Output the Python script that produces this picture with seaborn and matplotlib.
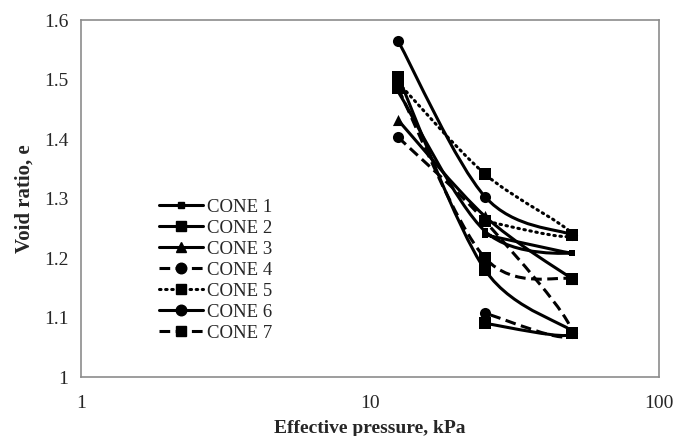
import numpy as np
import matplotlib
matplotlib.use("Agg")
import matplotlib.pyplot as plt
from matplotlib.path import Path
from matplotlib.patches import PathPatch
from matplotlib.lines import Line2D
import seaborn as sns

# loading 12.5 -> 25 -> 50 kPa, some cones unloaded back to 25 kPa
labels = ["CONE 1", "CONE 2", "CONE 3", "CONE 4", "CONE 5", "CONE 6", "CONE 7"]
p_cone1 = [12.5, 25, 50, 25]
e_cone1 = [1.480, 1.245, 1.208, 1.239]
p_cone2 = [12.5, 25, 50, 25]
e_cone2 = [1.505, 1.180, 1.074, 1.090]
p_cone3 = [12.5, 25, 50]
e_cone3 = [1.432, 1.270, 1.165]
p_cone4 = [12.5, 25, 50, 25]
e_cone4 = [1.403, 1.262, 1.074, 1.107]
p_cone5 = [12.5, 25, 50, 25]
e_cone5 = [1.495, 1.341, 1.239, 1.262]
p_cone6 = [12.5, 25, 50]
e_cone6 = [1.565, 1.303, 1.239]
p_cone7 = [12.5, 25, 50]
e_cone7 = [1.485, 1.200, 1.165]

pressures = [p_cone1, p_cone2, p_cone3, p_cone4, p_cone5, p_cone6, p_cone7]
ratios = [e_cone1, e_cone2, e_cone3, e_cone4, e_cone5, e_cone6, e_cone7]

markers = ["s", "s", "^", "o", "s", "o", "s"]
msizes = [5, 8, 8, 8, 8, 8, 8]
dashes = ["-", "-", "-", (0, (3.5, 1.8)), (0, (0.5, 1.5)), "-", (0, (3.5, 1.8))]
caps = ["butt", "butt", "butt", "butt", "round", "butt", "butt"]
LW = 2.2


def smooth_path(xs, ys):
    # Excel-like smoothed line: Catmull-Rom as cubic Bezier in (log x, y)
    lx = np.log10(xs)
    pts = np.column_stack([lx, ys])
    n = len(pts)
    verts = [pts[0]]
    codes = [Path.MOVETO]
    for i in range(n - 1):
        p0 = pts[i - 1] if i > 0 else pts[i]
        p1 = pts[i]
        p2 = pts[i + 1]
        p3 = pts[i + 2] if i + 2 < n else pts[i + 1]
        c1 = p1 + (p2 - p0) / 6.0
        c2 = p2 - (p3 - p1) / 6.0
        verts += [c1, c2, p2]
        codes += [Path.CURVE4] * 3
    verts = np.array(verts)
    verts[:, 0] = 10 ** verts[:, 0]
    return Path(verts, codes)


sns.set_style("white")
plt.rcParams["font.family"] = ["Liberation Serif", "DejaVu Serif"]

fig = plt.figure(figsize=(6.83, 4.36), dpi=100)
ax = fig.add_axes([0.1186, 0.1353, 0.8463, 0.8188])
ax.set_xscale("log")

handles = []
for i, lab in enumerate(labels):
    path = smooth_path(pressures[i], ratios[i])
    patch = PathPatch(path, facecolor="none", edgecolor="black", lw=LW,
                      linestyle=dashes[i], capstyle=caps[i], zorder=2)
    ax.add_patch(patch)
    sns.scatterplot(x=pressures[i], y=ratios[i], marker=markers[i],
                    s=msizes[i] ** 2, color="black", edgecolor="black",
                    linewidth=0, ax=ax, zorder=3)
    handles.append(Line2D([0], [0], color="black", lw=LW, linestyle=dashes[i],
                          dash_capstyle=caps[i], marker=markers[i],
                          markersize=msizes[i] * 0.95))

ax.set_xlim(1, 100)
ax.set_ylim(1, 1.6)
ax.set_yticks([1, 1.1, 1.2, 1.3, 1.4, 1.5, 1.6])
ax.set_yticklabels(["1", "1.1", "1.2", "1.3", "1.4", "1.5", "1.6"])
ax.set_xticks([1, 10, 100])
ax.set_xticklabels(["1", "10", "100"])
ax.minorticks_off()
ax.tick_params(axis="both", which="major", direction="out", length=5,
               width=1, color="#8c8c8c", labelsize=14, pad=4)
ax.tick_params(axis="x", pad=8)
for sp in ax.spines.values():
    sp.set_color("#8c8c8c")
    sp.set_linewidth(1.2)

ax.set_xlabel("Effective pressure, kPa", fontsize=14, fontweight="bold", labelpad=6)
ax.set_ylabel("Void ratio, e", fontsize=15, fontweight="bold", labelpad=7)

ax.legend(handles=handles, labels=labels, loc="upper left",
          bbox_to_anchor=(0.135, 0.50), frameon=False, fontsize=13.5,
          handlelength=2.35, handletextpad=0.2, labelspacing=0.21,
          borderaxespad=0, borderpad=0)

fig.savefig("out.png", dpi=100)
